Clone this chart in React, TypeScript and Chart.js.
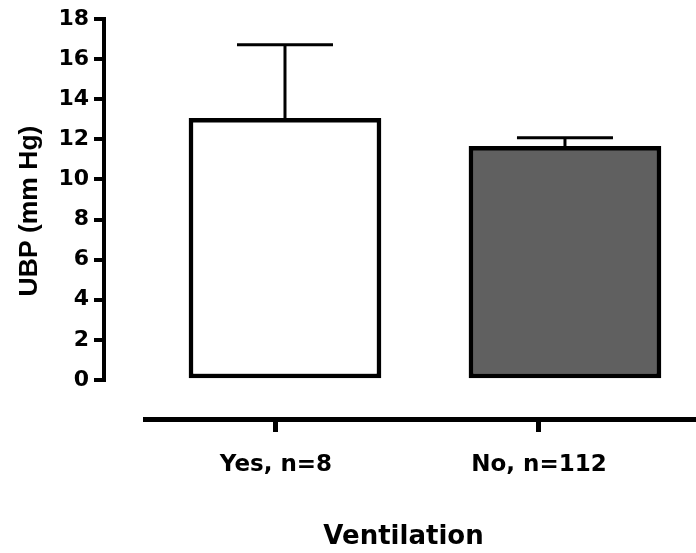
import React, { useEffect, useRef } from 'react';
import { Chart, registerables } from 'chart.js';

Chart.register(...registerables);

// ---- data ----
const categories = ['Yes, n=8', 'No, n=112'];
const categoryPositions = [1, 2];
const meanValues = [13.05, 11.65];
const errorUpper = [16.72, 12.08];
const barColors = ['#ffffff', '#606060'];
const yMin = 0;
const yMax = 18;
const yStep = 2;
const yAxisTitle = 'UBP (mm Hg)';
const xAxisTitle = 'Ventilation';

const errorBarPlugin = {
  id: 'errorBars',
  afterDatasetsDraw(chart: any) {
    const meta = chart.getDatasetMeta(0);
    const yScale = chart.scales.y;
    const ctx = chart.ctx;
    ctx.save();
    ctx.strokeStyle = '#000';
    ctx.lineWidth = 3;
    ctx.lineCap = 'butt';
    meta.data.forEach((bar: any, i: number) => {
      const { x, y, width } = bar.getProps(['x', 'y', 'width'], true);
      const yTop = yScale.getPixelForValue(errorUpper[i]);
      const half = width / 4;
      ctx.beginPath();
      ctx.moveTo(x, y + 2);
      ctx.lineTo(x, yTop);
      ctx.moveTo(x - half, yTop);
      ctx.lineTo(x + half, yTop);
      ctx.stroke();
    });
    ctx.restore();
  },
};

export default function App() {
  const ref = useRef<HTMLCanvasElement | null>(null);

  useEffect(() => {
    if (!ref.current) return;
    const tickFont = { family: 'DejaVu Sans', weight: 'bold' as const, size: 22 };
    const chart = new Chart(ref.current, {
      type: 'bar',
      data: {
        datasets: [
          {
            data: categoryPositions.map((x, i) => ({ x, y: meanValues[i] })),
            backgroundColor: barColors,
            borderColor: '#000',
            borderWidth: 4.5,
            borderSkipped: false,
            barThickness: 192,
            xAxisID: 'x',
            yAxisID: 'y',
          } as any,
        ],
      },
      options: {
        responsive: false,
        animation: false,
        events: [],
        layout: { padding: { top: 19, left: 14, right: 0, bottom: 0 } },
        plugins: {
          legend: { display: false },
          tooltip: { enabled: false },
          title: { display: false },
        },
        scales: {
          x: {
            type: 'linear',
            display: false,
            min: 0.5,
            max: 2.468,
            offset: false,
            weight: 0,
          } as any,
          ypad: {
            type: 'linear',
            axis: 'y',
            position: 'left',
            display: false,
            min: 0,
            max: 1,
            weight: 3.5,
            stack: 'lt',
            stackWeight: 23,
          } as any,
          yt: {
            type: 'linear',
            axis: 'y',
            position: 'left',
            min: 0,
            max: 1,
            weight: 3,
            stack: 'lt',
            stackWeight: 338,
            ticks: { display: false },
            grid: { display: false, drawTicks: false },
            border: { display: false },
            title: {
              display: true,
              text: yAxisTitle,
              color: '#000',
              font: { family: 'Liberation Sans', weight: 'bold', size: 26.5 },
              padding: { top: 0, bottom: 0 },
            },
            afterFit: (s: any) => {
              s.width = 44;
            },
          } as any,
          y: {
            type: 'linear',
            position: 'left',
            min: yMin,
            max: yMax,
            weight: 2,
            ticks: { stepSize: yStep, color: '#000', font: tickFont, padding: 5 },
            grid: {
              display: true,
              drawOnChartArea: false,
              drawTicks: true,
              tickLength: 10,
              lineWidth: 4,
              color: '#000',
            },
            border: { display: true, width: 4, color: '#000' },
            afterFit: (s: any) => {
              s.width = 46;
            },
          } as any,
          ygap: {
            type: 'linear',
            axis: 'y',
            position: 'left',
            min: 0,
            max: 1,
            weight: 1,
            ticks: { display: false },
            grid: { display: false, drawTicks: false },
            border: { display: false },
            afterFit: (s: any) => {
              s.width = 41;
            },
          } as any,
          xl: {
            type: 'linear',
            axis: 'x',
            position: { y: -1.95 },
            min: 0.502,
            max: 2.597,
            offset: false,
            weight: 0,
            afterBuildTicks: (s: any) => {
              s.ticks = categoryPositions.map((v) => ({ value: v }));
            },
            ticks: {
              callback: (_v: any, i: number) => categories[i],
              color: '#000',
              font: { family: 'DejaVu Sans', weight: 'bold', size: 23 },
              padding: 22,
              maxRotation: 0,
              autoSkip: false,
            },
            grid: {
              display: true,
              offset: false,
              drawOnChartArea: false,
              drawTicks: true,
              tickLength: 10,
              lineWidth: 5,
              color: '#000',
            },
            border: { display: true, width: 5, color: '#000' },
          } as any,
          xt: {
            type: 'linear',
            axis: 'x',
            position: 'bottom',
            min: 0,
            max: 1,
            offset: false,
            weight: 1,
            stack: 'bt',
            stackWeight: 517,
            ticks: { display: false },
            grid: { display: false, drawTicks: false, offset: false },
            border: { display: false },
            title: {
              display: true,
              text: xAxisTitle,
              color: '#000',
              font: { family: 'DejaVu Sans', weight: 'bold', size: 26 },
              padding: { top: 141.4, bottom: 0.4 },
            },
          } as any,
          xpad: {
            type: 'linear',
            axis: 'x',
            position: 'bottom',
            display: false,
            min: 0,
            max: 1,
            weight: 2,
            stack: 'bt',
            stackWeight: 34,
          } as any,
        },
      },
      plugins: [errorBarPlugin],
    });
    return () => chart.destroy();
  }, []);

  return (
    <div
      style={{
        position: 'absolute',
        left: 0,
        top: 0,
        width: 696,
        height: 553,
        background: '#ffffff',
      }}
    >
      <canvas ref={ref} width={696} height={553} style={{ display: 'block' }} />
    </div>
  );
}
